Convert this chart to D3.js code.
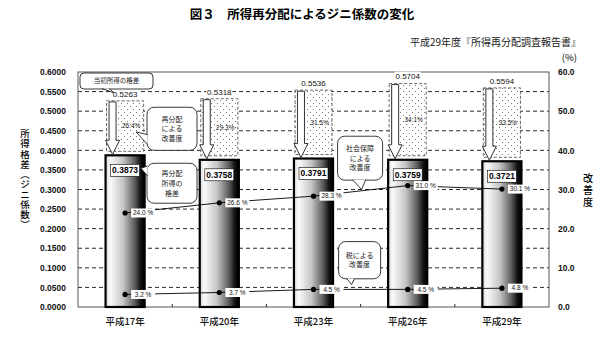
<!DOCTYPE html>
<html><head><meta charset="utf-8">
<script src="https://cdn.jsdelivr.net/npm/d3@7"></script>
<style>body{margin:0;background:#fff}svg{display:block}</style>
</head><body><svg id="c" width="600" height="356"></svg>
<script>
const categories = ["平成17年","平成20年","平成23年","平成26年","平成29年"];
const initialGini = [0.5263,0.5318,0.5536,0.5704,0.5594];
const redistributedGini = [0.3873,0.3758,0.3791,0.3759,0.3721];
const redistImprovement = [26.4,29.3,31.5,34.1,33.5];
const socialSecurityImprovement = [24.0,26.6,28.3,31.0,30.1];
const taxImprovement = [3.2,3.7,4.5,4.5,4.8];
const leftTicks = [0,0.05,0.1,0.15,0.2,0.25,0.3,0.35,0.4,0.45,0.5,0.55,0.6];
const rightTicks = [0,10,20,30,40,50,60];
const titleText = "図３　所得再分配によるジニ係数の変化";
const sourceText = "平成29年度『所得再分配調査報告書』";
const leftTitle = "所得格差（ジニ係数）";
const rightTitle = "改善度";

const NUM = "'Liberation Sans', Arial, sans-serif";
const CJK = "'Noto Sans CJK JP', sans-serif";
const svg = d3.select("#c");
const L = 78, R = 549, T = 72, B = 307;

const x = d3.scaleBand().domain(categories).range([L, R]).padding(0);
const yL = d3.scaleLinear().domain([0, 0.6]).range([B, T]);
const yR = d3.scaleLinear().domain([0, 60]).range([B, T]);
const bw = x.bandwidth() * 0.415;
const cx = c => x(c) + x.bandwidth() / 2;
const bl = c => cx(c) - bw / 2;

const defs = svg.append("defs");
const g = defs.append("linearGradient").attr("id", "barGrad").attr("x1", 0).attr("x2", 1).attr("y1", 0).attr("y2", 0);
[[0,"#d8d8d8"],[0.12,"#fafafa"],[0.45,"#c4c4c4"],[0.75,"#5a5a5a"],[0.9,"#111"],[1,"#000"]]
  .forEach(([o,c]) => g.append("stop").attr("offset", o).attr("stop-color", c));
const pat = defs.append("pattern").attr("id", "dots").attr("patternUnits", "userSpaceOnUse").attr("width", 6).attr("height", 6);
pat.append("rect").attr("width", 6).attr("height", 6).attr("fill", "#fff");
pat.append("rect").attr("x", 1).attr("y", 1).attr("width", 1).attr("height", 1).attr("fill", "#777");
pat.append("rect").attr("x", 4).attr("y", 4).attr("width", 1).attr("height", 1).attr("fill", "#777");

// titles
svg.append("text").attr("x", 302).attr("y", 19).attr("text-anchor", "middle")
  .attr("font-family", CJK).attr("font-weight", 700).attr("font-size", 12.5).text(titleText);
svg.append("text").attr("x", 581).attr("y", 46).attr("text-anchor", "end")
  .attr("font-family", CJK).attr("font-size", 10).attr("fill", "#222").text(sourceText);
svg.append("text").attr("x", 577).attr("y", 61).attr("text-anchor", "end")
  .attr("font-family", CJK).attr("font-size", 9.5).text("(%)");

// gridlines
svg.append("g").selectAll("line").data(leftTicks.filter(t => t > 0 && t < 0.6)).join("line")
  .attr("x1", L).attr("x2", R).attr("y1", d => yL(d)).attr("y2", d => yL(d))
  .attr("stroke", "#111").attr("stroke-width", 0.9).attr("stroke-dasharray", "4,3");

// frame
svg.append("rect").attr("x", L).attr("y", T).attr("width", R - L).attr("height", B - T)
  .attr("fill", "none").attr("stroke", "#555").attr("stroke-width", 1);

// axes
const axL = svg.append("g").attr("transform", `translate(${L},0)`)
  .call(d3.axisLeft(yL).tickValues(leftTicks).tickFormat(d3.format(".4f")).tickSize(0).tickPadding(12));
const axR = svg.append("g").attr("transform", `translate(${R},0)`)
  .call(d3.axisRight(yR).tickValues(rightTicks).tickFormat(d3.format(".1f")).tickSize(0).tickPadding(9));
[axL, axR].forEach(a => {
  a.select(".domain").remove();
  a.selectAll("text").attr("font-family", NUM).attr("font-weight", 700).attr("font-size", 8.5).attr("fill", "#111");
});
const axX = svg.append("g").attr("transform", `translate(0,${B})`)
  .call(d3.axisBottom(x).tickSize(0).tickPadding(11));
axX.select(".domain").remove();
axX.selectAll("text").attr("font-family", CJK).attr("font-size", 9.5).attr("font-weight", 500).attr("fill", "#111");
// category boundary ticks (inward)
svg.append("g").selectAll("line").data(categories.slice(1)).join("line")
  .attr("x1", d => x(d)).attr("x2", d => x(d)).attr("y1", B).attr("y2", B - 3)
  .attr("stroke", "#333");

// axis titles (vertical writing)
svg.append("text").attr("x", 25).attr("y", 129)
  .style("writing-mode", "vertical-rl").style("letter-spacing", "0.6px")
  .attr("font-family", CJK).attr("font-size", 9.5).attr("font-weight", 500).text(leftTitle);
svg.append("text").attr("x", 588).attr("y", 173)
  .style("writing-mode", "vertical-rl").style("letter-spacing", "2.3px")
  .attr("font-family", CJK).attr("font-size", 10).attr("font-weight", 500).text(rightTitle);

// bars
svg.append("g").selectAll("rect").data(categories).join("rect")
  .attr("x", d => bl(d)).attr("width", bw)
  .attr("y", (d, i) => yL(redistributedGini[i])).attr("height", (d, i) => B - yL(redistributedGini[i]))
  .attr("fill", "url(#barGrad)").attr("stroke", "#000").attr("stroke-width", 2.2);

// dotted improvement boxes
svg.append("g").selectAll("rect").data(categories).join("rect")
  .attr("x", d => bl(d) + 1).attr("width", bw - 2)
  .attr("y", (d, i) => yL(initialGini[i]))
  .attr("height", (d, i) => yL(redistributedGini[i]) - yL(initialGini[i]) - 4)
  .attr("fill", "url(#dots)").attr("stroke", "#555").attr("stroke-width", 0.9).attr("stroke-dasharray", "3,2");

// arrows
svg.append("g").selectAll("path").data(categories).join("path")
  .attr("d", (d, i) => {
    const ax = bl(d) + 7, top = yL(initialGini[i]) + 1, tip = yL(redistributedGini[i]) - 1, hh = 14;
    return `M${ax-3.5},${top}L${ax+3.5},${top}L${ax+3.5},${tip-hh}L${ax+7},${tip-hh}L${ax},${tip}L${ax-7},${tip-hh}L${ax-3.5},${tip-hh}Z`;
  })
  .attr("fill", "#fff").attr("stroke", "#333").attr("stroke-width", 1);

// improvement % labels in dotted boxes
svg.append("g").selectAll("text").data(categories).join("text")
  .attr("x", d => cx(d) + 6)
  .attr("y", (d, i) => (yL(initialGini[i]) + yL(redistributedGini[i]) - 4) / 2)
  .attr("dy", "0.35em").attr("text-anchor", "middle")
  .attr("font-family", NUM).attr("font-size", 6.5).attr("fill", "#222")
  .text((d, i) => redistImprovement[i].toFixed(1) + "%");

// initial gini labels
categories.forEach((c, i) => {
  const t = d3.format(".4f")(initialGini[i]);
  const yy = yL(initialGini[i]) - 7;
  svg.append("rect").attr("x", cx(c) - 13).attr("y", yy - 5).attr("width", 26).attr("height", 10).attr("fill", "#fff");
  svg.append("text").attr("x", cx(c)).attr("y", yy).attr("dy", "0.35em").attr("text-anchor", "middle")
    .attr("font-family", NUM).attr("font-size", 8).attr("fill", "#111").text(t);
});

// redistributed gini labels
categories.forEach((c, i) => {
  const t = d3.format(".4f")(redistributedGini[i]);
  const yy = yL(redistributedGini[i]) + 15;
  svg.append("rect").attr("x", cx(c) - 14.5).attr("y", yy - 6).attr("width", 29).attr("height", 12)
    .attr("fill", "#fff").attr("stroke", "#000").attr("stroke-width", 0.6);
  svg.append("text").attr("x", cx(c)).attr("y", yy).attr("dy", "0.35em").attr("text-anchor", "middle")
    .attr("font-family", NUM).attr("font-weight", 700).attr("font-size", 8.5).attr("fill", "#000").text(t);
});

// line series
const line = d3.line().x((d, i) => cx(categories[i])).y(d => yR(d));
[socialSecurityImprovement, taxImprovement].forEach(series => {
  svg.append("path").attr("d", line(series)).attr("fill", "none").attr("stroke", "#000").attr("stroke-width", 0.9);
  series.forEach((v, i) => {
    const px = cx(categories[i]), py = yR(v);
    svg.append("rect").attr("x", px + 6).attr("y", py - 4.5).attr("width", 24).attr("height", 9).attr("fill", "#fff");
    svg.append("text").attr("x", px + 18).attr("y", py).attr("dy", "0.35em").attr("text-anchor", "middle")
      .attr("font-family", NUM).attr("font-size", 6.5).attr("fill", "#111").text(v.toFixed(1) + " %");
    svg.append("circle").attr("cx", px).attr("cy", py).attr("r", 2.6).attr("fill", "#000");
  });
});

// callouts
function callout(rx, ry, w, h, r, base1, base2, tip, lines, fs, lh) {
  const gg = svg.append("g");
  gg.append("rect").attr("x", rx).attr("y", ry).attr("width", w).attr("height", h).attr("rx", r)
    .attr("fill", "#fff").attr("stroke", "#222").attr("stroke-width", 0.9);
  gg.append("path").attr("d", `M${base1[0]},${base1[1]}L${tip[0]},${tip[1]}L${base2[0]},${base2[1]}`)
    .attr("fill", "#fff").attr("stroke", "#222").attr("stroke-width", 0.9);
  const n = lines.length;
  lines.forEach((t, k) => {
    gg.append("text").attr("x", rx + w / 2).attr("y", ry + h / 2 + (k - (n - 1) / 2) * lh).attr("dy", "0.36em")
      .attr("text-anchor", "middle").attr("font-family", CJK).attr("font-size", fs).attr("fill", "#222").text(t);
  });
}
const c0 = categories[0], c3 = categories[3];
// 当初所得の格差
callout(x(c0) + 2, T + 1, 73, 16, 4, [x(c0) + 24, T + 16.5], [x(c0) + 31, T + 16.5], [cx(c0) - 11, yL(initialGini[0]) - 8],
  ["当初所得の格差"], 6.5, 10);
// 再分配による改善度
callout(x(c0) + 69, yL(0.51), 50, yL(0.40) - yL(0.51), 7, [x(c0) + 69.5, yL(0.44)], [x(c0) + 69.5, yL(0.415)],
  [x(c0) + 58, yL(0.447)], ["再分配", "による", "改善度"], 7, 9.8);
// 再分配所得の格差
callout(x(c0) + 69, yL(0.367), 50, yL(0.265) - yL(0.367), 7, [x(c0) + 69.5, yL(0.36)], [x(c0) + 69.5, yL(0.335)],
  [x(c0) + 63, yL(0.354)], ["再分配", "所得の", "格差"], 7, 9.8);
// 社会保障による改善度
callout(x(c3) - 23, yR(43.6), 45, yR(32.4) - yR(43.6), 7, [x(c3) - 8, yR(32.5)], [x(c3) + 5, yR(32.5)],
  [x(c3) + 1, yR(30.0)], ["社会保障", "による", "改善度"], 7, 9.3);
// 税による改善度
callout(x(c3) - 22, yR(16.7), 42, yR(7.2) - yR(16.7), 7, [x(c3) - 14, yR(7.3)], [x(c3) - 6, yR(7.3)],
  [x(c3) - 9, yR(5.7)], ["税による", "改善度"], 7, 9.3);
</script></body></html>
